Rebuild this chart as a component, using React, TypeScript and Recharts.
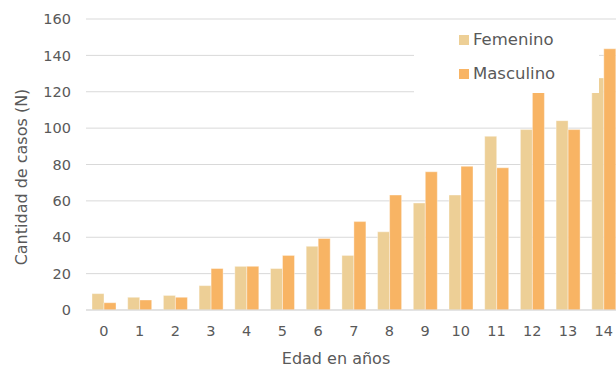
import React from "react";
import { BarChart, Bar, XAxis, YAxis, CartesianGrid, Legend } from "recharts";

const edades = ["0", "1", "2", "3", "4", "5", "6", "7", "8", "9", "10", "11", "12", "13", "14"];
const femenino = [9, 7, 8, 13.4, 24, 22.8, 35, 30, 43, 58.8, 63.2, 95.5, 99.2, 104.1, 127.6];
const masculino = [4, 5.5, 7, 22.8, 24, 30, 39.3, 48.6, 63.2, 76, 79, 78.2, 124, 99.2, 143.6];
const yTicks = [0, 20, 40, 60, 80, 100, 120, 140, 160];

const data = edades.map((e, i) => ({ edad: e, Femenino: femenino[i], Masculino: masculino[i] }));

const FONT = "'DejaVu Sans', sans-serif";
const TEXT = "#595959";
const FEM = "#EDCF96";
const MAS = "#F8B464";

const LegendContent = () => (
  <div style={{ width: 185, height: 68, background: "#fff", position: "relative", fontFamily: FONT }}>
    {[
      { name: "Femenino", color: FEM, top: 6 },
      { name: "Masculino", color: MAS, top: 40 },
    ].map((it) => (
      <div key={it.name} style={{ position: "absolute", left: 45, top: it.top, display: "flex", alignItems: "center", height: 18 }}>
        <div style={{ width: 10, height: 10, background: it.color, marginRight: 4 }} />
        <span style={{ fontSize: 16.5, color: TEXT, lineHeight: "18px" }}>{it.name}</span>
      </div>
    ))}
  </div>
);

export default function App() {
  return (
    <div style={{ position: "fixed", left: 0, top: 0, width: 616, height: 367, overflow: "hidden", background: "#fff" }}>
      <BarChart
        width={630}
        height={367}
        data={data}
        margin={{ top: 19, right: 8.5, bottom: 0, left: 0 }}
        barCategoryGap={6}
        barGap={0}
      >
        <CartesianGrid vertical={false} stroke="#d9d9d9" strokeWidth={1} />
        <XAxis
          dataKey="edad"
          height={57}
          tickLine={false}
          axisLine={{ stroke: "#d9d9d9" }}
          tickMargin={10}
          tick={{ fill: TEXT, fontSize: 14.5, fontFamily: FONT }}
          label={{
            content: (props: any) => {
              const vb = props.viewBox;
              return (
                <text x={336} y={vb.y + 54} textAnchor="middle" fill={TEXT} fontSize={16} fontFamily={FONT}>
                  Edad en años
                </text>
              );
            },
          }}
        />
        <YAxis
          width={86}
          domain={[0, 160]}
          ticks={yTicks}
          tickLine={false}
          axisLine={false}
          tickMargin={9}
          tick={{ fill: TEXT, fontSize: 14.5, fontFamily: FONT }}
          label={{
            content: () => (
              <text
                x={21}
                y={177}
                transform="rotate(-90 21 177)"
                textAnchor="middle"
                dominantBaseline="central"
                fill={TEXT}
                fontSize={16}
                fontFamily={FONT}
              >
                Cantidad de casos  (N)
              </text>
            ),
          }}
        />
        <Legend
          content={<LegendContent />}
          wrapperStyle={{ left: 414, top: 25, width: 0, height: 0, overflow: "visible" }}
        />
        <Bar dataKey="Femenino" fill={FEM} stroke="#fff" strokeOpacity={0.5} strokeWidth={0.75} isAnimationActive={false} />
        <Bar dataKey="Masculino" fill={MAS} stroke="#fff" strokeOpacity={0.5} strokeWidth={0.75} isAnimationActive={false} />
      </BarChart>
    </div>
  );
}
